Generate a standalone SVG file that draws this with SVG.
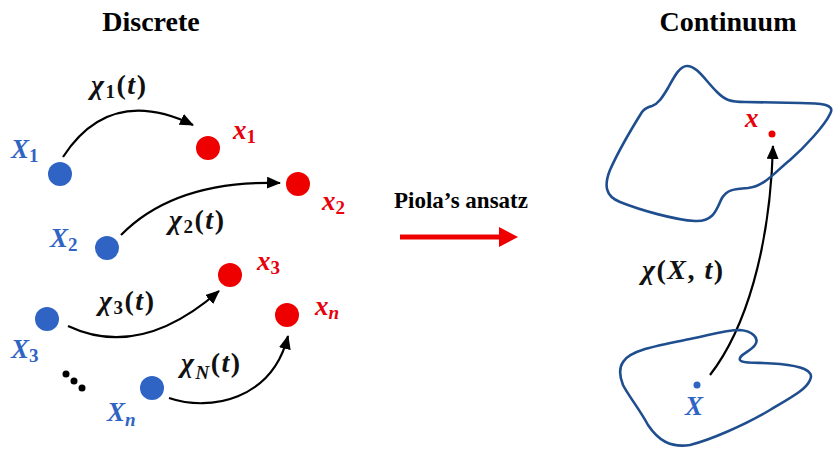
<svg xmlns="http://www.w3.org/2000/svg" width="834" height="455" viewBox="0 0 834 455">
<defs>
<style>
.title{font-family:"Liberation Serif","Times New Roman",serif;font-weight:bold;font-size:28px;fill:#000}
.math{font-family:"Liberation Serif","DejaVu Serif",serif;font-weight:bold;font-style:italic;font-size:27px}
.chi{font-size:28px;letter-spacing:1.5px}
.up{font-style:normal}
.sub{font-style:normal;font-size:19px}
.subi{font-style:italic;font-size:19px}
.blue{fill:#2F64C4}
.red{fill:#E8000B}
.blk{fill:#111}
.bdot{fill:#2F64C4}
.rdot{fill:#EE0000}
.conn{fill:none;stroke:#000;stroke-width:2.2}
.shape{fill:none;stroke:#1F4E8F;stroke-width:2.6;stroke-linejoin:round}
</style>
<marker id="ah" markerWidth="14" markerHeight="12" refX="13" refY="6" orient="auto" markerUnits="userSpaceOnUse">
<path d="M0,0 L14,6 L0,12 Z" fill="#000"/>
</marker>
</defs>
<rect width="834" height="455" fill="#fff"/>
<text class="title" x="151" y="31" text-anchor="middle">Discrete</text>
<text class="title" x="728" y="31" text-anchor="middle">Continuum</text>

<g id="connectors">
<path class="conn" d="M63,157 Q110,85 193,125" marker-end="url(#ah)"/>
<path class="conn" d="M121,235 Q175,180 280,183" marker-end="url(#ah)"/>
<path class="conn" d="M68,326 Q140,360 219,291" marker-end="url(#ah)"/>
<path class="conn" d="M169,398 C210,412 272,400 288,336" marker-end="url(#ah)"/>
<path class="conn" d="M710,375 C745,330 770,250 773,146" marker-end="url(#ah)"/>
</g>

<g id="label-chi1"><text class="math chi blk" x="91" y="94">χ<tspan class="sub" dy="4">1</tspan><tspan class="up" dy="-4">(</tspan>t<tspan class="up">)</tspan></text></g>
<g id="label-chi2"><text class="math chi blk" x="169" y="229">χ<tspan class="sub" dy="4">2</tspan><tspan class="up" dy="-4">(</tspan>t<tspan class="up">)</tspan></text></g>
<g id="label-chi3"><text class="math chi blk" x="99" y="310">χ<tspan class="sub" dy="4">3</tspan><tspan class="up" dy="-4">(</tspan>t<tspan class="up">)</tspan></text></g>
<g id="label-chiN"><text class="math chi blk" x="181" y="372">χ<tspan class="subi" dy="7">N</tspan><tspan class="up" dy="-7">(</tspan>t<tspan class="up">)</tspan></text></g>

<g id="X1"><circle class="bdot" cx="60" cy="174" r="12"/><text class="math blue" x="11" y="158">X<tspan class="sub" dy="4">1</tspan></text></g>
<g id="x1"><circle class="rdot" cx="208" cy="148" r="12"/><text class="math red" x="233" y="139">x<tspan class="sub" dy="4">1</tspan></text></g>
<g id="X2"><circle class="bdot" cx="107" cy="248" r="12"/><text class="math blue" x="50" y="247">X<tspan class="sub" dy="4">2</tspan></text></g>
<g id="x2"><circle class="rdot" cx="298" cy="184" r="12"/><text class="math red" x="322" y="210">x<tspan class="sub" dy="4">2</tspan></text></g>
<g id="x3"><circle class="rdot" cx="230" cy="275" r="12"/><text class="math red" x="257" y="270">x<tspan class="sub" dy="4">3</tspan></text></g>
<g id="X3"><circle class="bdot" cx="47" cy="319" r="12"/><text class="math blue" x="11" y="358">X<tspan class="sub" dy="4">3</tspan></text></g>
<g id="xn"><circle class="rdot" cx="287" cy="315" r="12"/><text class="math red" x="315" y="315">x<tspan class="subi" dy="4">n</tspan></text></g>
<g id="Xn"><circle class="bdot" cx="152" cy="388" r="12"/><text class="math blue" x="107" y="421">X<tspan class="subi" dy="5">n</tspan></text></g>
<g id="ellipsis"><circle cx="66" cy="374" r="3.5" fill="#000"/><circle cx="74" cy="381" r="3.5" fill="#000"/><circle cx="82" cy="388" r="3.5" fill="#000"/></g>

<g id="piola">
<text x="461" y="208" text-anchor="middle" style="font-family:'Liberation Serif','Times New Roman',serif;font-weight:bold;font-size:23px">Piola’s ansatz</text>
<path d="M400,237 L502,237" stroke="#EE0000" stroke-width="5" fill="none"/>
<path d="M499,227 L518,237 L499,247 Z" fill="#EE0000"/>
</g>

<g id="body-current">
<path class="shape" d="M687,66 C697,66 705,80 717,92 C725,100 730,102 745,102 L800,103 C820,103 836,104 830,114 C825,125 805,147 790,160 C775,172 765,186 748,188 C733,189 727,190 722,198 C717,207 715,222 695,221 C675,220 640,210 620,202 C605,196 604,185 610,170 C618,152 632,128 642,112 C645,108 648,107 652,106 C658,104 662,98 668,88 C675,75 680,66 687,66 Z"/>
<circle class="rdot" cx="772" cy="134" r="3.5"/>
<text class="math red" x="745" y="127">x</text>
</g>
<g id="label-chiXt"><text class="math chi blk" x="642" y="279">χ<tspan class="up">(</tspan>X<tspan class="up">, </tspan>t<tspan class="up">)</tspan></text></g>
<g id="body-reference">
<path class="shape" d="M623,362 C630,350 660,345 690,339 C710,335 725,330 740,330 C752,331 760,338 755,345 C750,352 738,355 740,360 C742,364 760,362 780,364 C800,366 815,370 810,380 C806,390 790,398 770,410 C745,425 710,440 690,445 C670,448 658,440 648,425 C640,410 628,395 623,385 C619,375 619,368 623,362 Z"/>
<circle class="bdot" cx="697" cy="385" r="3.5"/>
<text class="math blue" x="685" y="415">X</text>
</g>
</svg>
